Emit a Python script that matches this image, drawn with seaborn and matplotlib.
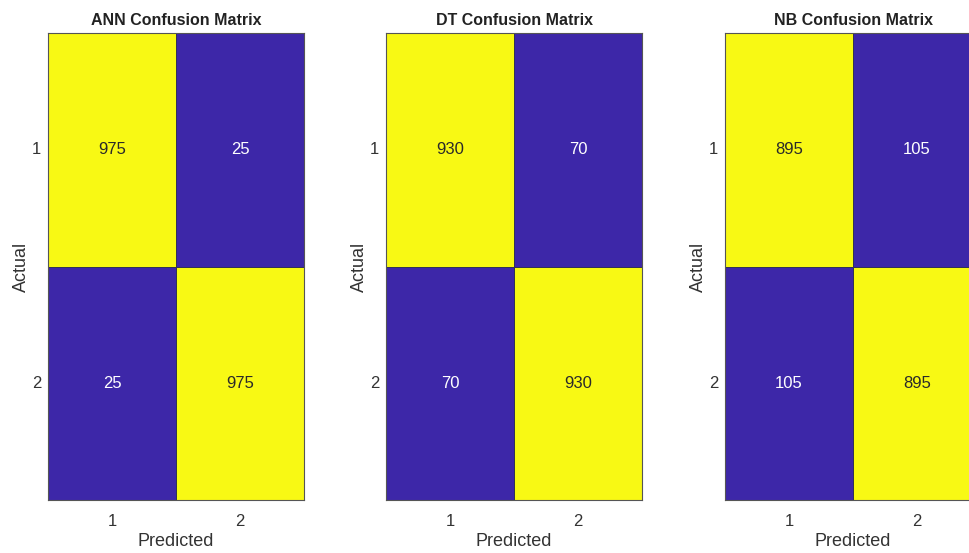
import numpy as np
import pandas as pd
import matplotlib
matplotlib.use("Agg")
import matplotlib.pyplot as plt
import seaborn as sns
from matplotlib.colors import ListedColormap

# Données des matrices de confusion
models = ["ANN", "DT", "NB"]
class_labels = ["1", "2"]
ann_cm = [[975, 25], [25, 975]]
dt_cm = [[930, 70], [70, 930]]
nb_cm = [[895, 105], [105, 895]]
matrices = [ann_cm, dt_cm, nb_cm]

sns.set_style("white")
plt.rcParams["font.family"] = ["Liberation Sans", "DejaVu Sans"]

fig = plt.figure(figsize=(9.69, 5.53), dpi=100)
cmap = ListedColormap(["#3D27A8", "#F8F914"])

lefts = [48, 386, 725]
for name, cm, left in zip(models, matrices, lefts):
    ax = fig.add_axes([left / 969, 1 - 500 / 553, 256 / 969, 467 / 553])
    data = pd.DataFrame(cm, index=class_labels, columns=class_labels)
    sns.heatmap(data, ax=ax, cmap=cmap, cbar=False, annot=True, fmt="d",
                linewidths=0.6, linecolor="#333355", square=False,
                annot_kws={"fontsize": 12})
    for t in ax.texts:
        val = int(t.get_text())
        t.set_color("#2a2a2a" if val > 500 else "white")
    ax.set_title(f"{name} Confusion Matrix", fontsize=11.5, fontweight="bold",
                 color="#222222", pad=6)
    ax.set_xlabel("Predicted", fontsize=13, color="#333333", labelpad=3)
    ax.set_ylabel("Actual", fontsize=13, color="#333333", labelpad=1)
    ax.tick_params(axis="x", length=0, labelsize=12, colors="#333333", pad=10)
    ax.tick_params(axis="y", length=0, labelsize=12, colors="#333333", pad=5)
    ax.set_yticklabels(class_labels, rotation=0)
    for sp in ax.spines.values():
        sp.set_visible(True)
        sp.set_color("#555555")
        sp.set_linewidth(0.8)

fig.savefig("out.png", dpi=100)
